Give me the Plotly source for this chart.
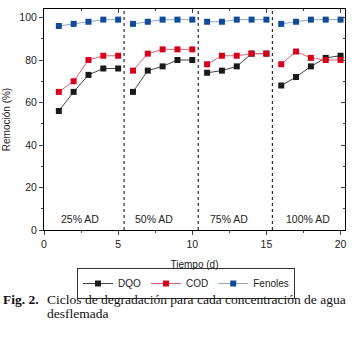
import plotly.graph_objects as go

# Data (per cycle)
days = [[1, 2, 3, 4, 5], [6, 7, 8, 9, 10], [11, 12, 13, 14, 15], [16, 17, 18, 19, 20]]
dqo = [[56, 65, 73, 76, 76], [65, 75, 77, 80, 80], [74, 75, 77, 83, 83], [68, 72, 77, 81, 82]]
cod = [[65, 70, 80, 82, 82], [75, 83, 85, 85, 85], [78, 82, 82, 83, 83], [78, 84, 81, 80, 80]]
fenoles = [[96, 97, 98, 99, 99], [97, 98, 99, 99, 99], [98, 98, 99, 99, 99], [97, 98, 99, 99, 99]]
cycle_labels = ["25% AD", "50% AD", "75% AD", "100% AD"]
cycle_label_x = [2.4, 7.4, 12.5, 17.8]
separators = [5.4, 10.4, 15.4]


def join(groups):
    out = []
    for i, g in enumerate(groups):
        if i:
            out.append(None)
        out.extend(g)
    return out


x_all = join(days)
series = [
    ("DQO", dqo, "#1a1a1a", "#444444"),
    ("COD", cod, "#d7001c", "#e0606e"),
    ("Fenoles", fenoles, "#114a96", "#8fa9c9"),
]

W, H = 355, 338
L, R, T, B = 44, 10, 9, 108
PW, PH = W - L - R, H - T - B


def px_x(p):
    return (p - L) / PW


def px_y(p):
    return (H - B - p) / PH


fig = go.Figure()
for name, vals, mcol, lcol in series:
    fig.add_trace(go.Scatter(
        x=x_all, y=join(vals), name=name, mode="lines+markers",
        line=dict(color=lcol, width=1),
        marker=dict(symbol="square", size=6, color=mcol),
        connectgaps=False,
    ))

for s in separators:
    fig.add_shape(type="line", x0=s, x1=s, y0=0, y1=1, yref="paper", xref="x",
                  line=dict(color="black", width=1, dash="dot"))

for lab, lx in zip(cycle_labels, cycle_label_x):
    fig.add_annotation(x=lx, y=5.3, text=lab, showarrow=False,
                       font=dict(size=10.5, color="#222"), xref="x", yref="y")

serif = "Liberation Serif, Times New Roman, serif"
cap_font = dict(family=serif, size=13.5, color="#111")
fig.add_annotation(x=px_x(1), y=px_y(299), xref="paper", yref="paper", xanchor="left",
                   yanchor="middle", showarrow=False, text="<b>Fig. 2.</b>", font=cap_font)
fig.add_annotation(x=px_x(45), y=px_y(299), xref="paper", yref="paper", xanchor="left",
                   yanchor="middle", showarrow=False,
                   text="Ciclos de degradación para cada concentración de agua",
                   font=cap_font)
fig.add_annotation(x=px_x(45), y=px_y(313), xref="paper", yref="paper", xanchor="left",
                   yanchor="middle", showarrow=False, text="desflemada", font=cap_font)

font_family = "Liberation Sans, Arial, sans-serif"
fig.update_layout(
    width=W, height=H,
    margin=dict(l=L, r=R, t=T, b=B, autoexpand=False),
    paper_bgcolor="white", plot_bgcolor="white",
    font=dict(family=font_family, size=10.5, color="#222"),
    showlegend=True,
    legend=dict(orientation="h", x=px_x(186), xanchor="center", y=px_y(268), yanchor="top",
                bordercolor="#333", borderwidth=1, font=dict(size=10),
                itemwidth=30, tracegroupgap=0),
    xaxis=dict(range=[0, 20.3], tickvals=[0, 5, 10, 15, 20], ticks="outside", ticklen=4,
               minor=dict(tickvals=[2.5, 7.5, 12.5, 17.5], ticks="outside", ticklen=2),
               showline=True, linecolor="black", linewidth=1, showgrid=False, zeroline=False,
               automargin=False,
               title=dict(text="Tiempo (d)", font=dict(size=10), standoff=12)),
    yaxis=dict(range=[0, 104], tickvals=[0, 20, 40, 60, 80, 100], ticks="outside", ticklen=4,
               minor=dict(tickvals=[10, 30, 50, 70, 90], ticks="outside", ticklen=2),
               showline=True, linecolor="black", linewidth=1, showgrid=False, zeroline=False,
               automargin=False,
               title=dict(text="Remoción (%)", font=dict(size=10), standoff=6)),
    xaxis2=dict(range=[0, 20.3], overlaying="x", side="top", tickvals=[0, 5, 10, 15, 20],
                ticks="inside", ticklen=4, showticklabels=False, showline=True,
                linecolor="black", linewidth=1, showgrid=False, zeroline=False,
                automargin=False,
                minor=dict(tickvals=[2.5, 7.5, 12.5, 17.5], ticks="inside", ticklen=2)),
    yaxis2=dict(range=[0, 104], overlaying="y", side="right", tickvals=[0, 20, 40, 60, 80, 100],
                ticks="inside", ticklen=4, showticklabels=False, showline=True,
                linecolor="black", linewidth=1, showgrid=False, zeroline=False,
                automargin=False,
                minor=dict(tickvals=[10, 30, 50, 70, 90], ticks="inside", ticklen=2)),
)
# invisible trace to activate secondary axes
fig.add_trace(go.Scatter(x=[None], y=[None], xaxis="x2", yaxis="y2", showlegend=False,
                         hoverinfo="skip"))

fig.write_html("out.html", config={"displayModeBar": False},
               post_script="document.body.style.margin='0px';"
               "document.body.style.overflow='hidden';")
